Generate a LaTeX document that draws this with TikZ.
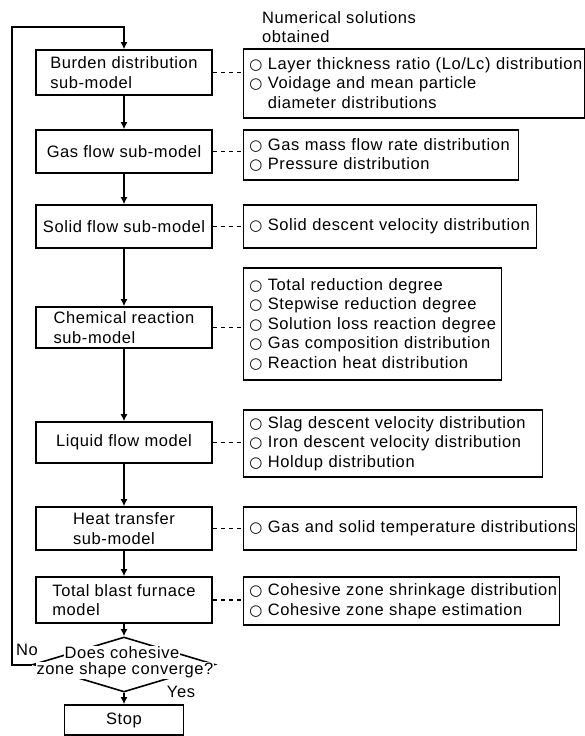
\documentclass[tikz,border=0pt]{standalone}
\usepackage{fontspec}
\setmainfont{Liberation Sans}[LetterSpace=3.5]
\newfontfamily\symfont{DejaVu Sans}
\usetikzlibrary{arrows.meta,shapes.geometric}
\newcommand\cir{{\symfont\fontsize{15}{15}\selectfont ○}}
\newcommand\itm[1]{\mbox{\cir\ #1}}
\newcommand\ind[1]{\mbox{\phantom{\cir\ }#1}}
\begin{document}
\begin{tikzpicture}[x=1pt,y=-1pt,
  every node/.style={font=\fontsize{16.5}{19.5}\selectfont, inner sep=0pt},
  model/.style={draw, line width=1.6pt, minimum width=176pt, align=left},
  result/.style={draw, line width=1.6pt, anchor=west, align=left, inner xsep=6pt, inner ysep=0pt},
  flow/.style={line width=2pt, -{Latex[length=7pt,width=7pt]}},
  link/.style={line width=1.7pt, dash pattern=on 4.5pt off 3.5pt},
]
\useasboundingbox (0,0) rectangle (585,736);

% left column
\node[model, minimum height=45pt] (burden) at (124,72.5) {Burden distribution\\sub-model};
\node[model, minimum height=43pt] (gas) at (124,151.5) {Gas flow sub-model};
\node[model, minimum height=43pt] (solid) at (124,226.5) {Solid flow sub-model};
\node[model, minimum height=41pt] (chem) at (124,327.5) {Chemical reaction\\sub-model};
\node[model, minimum height=41pt] (liquid) at (124,442.5) {Liquid flow model};
\node[model, minimum height=43pt] (heat) at (124,528.5) {Heat transfer\\sub-model};
\node[model, minimum height=46pt] (total) at (124,600) {Total blast furnace\\model};
\node[draw, shape=diamond, line width=1.6pt, minimum width=182pt, minimum height=55pt] (dec) at (124,664.5) {};
\node[fill=white, inner sep=1pt] (q1) at (122,653) {Does cohesive};
\node[fill=white, inner sep=1pt] (q2) at (125,670.5) {zone shape converge?};
\node[draw, line width=1.6pt, minimum width=119pt, minimum height=30pt] (stop) at (124,720) {Stop};
\node (no) at (27,650) {No};
\node (yes) at (181,692) {Yes};

% right column
\node[anchor=west] (head) at (262,27) [align=left] {Numerical solutions\\obtained};
\node[result, text width=329pt, minimum height=69pt] (r1) at (242.5,83.5)
  {\itm{Layer thickness ratio (Lo/Lc) distribution}\\\itm{Voidage and mean particle}\\\ind{diameter distributions}};
\node[result, text width=263pt, minimum height=50pt] (r2) at (242.5,155)
  {\itm{Gas mass flow rate distribution}\\\itm{Pressure distribution}};
\node[result, text width=281pt, minimum height=43pt] (r3) at (242.5,226.5)
  {\itm{Solid descent velocity distribution}};
\node[result, text width=246pt, minimum height=112pt] (r4) at (242.5,324)
  {\itm{Total reduction degree}\\\itm{Stepwise reduction degree}\\\itm{Solution loss reaction degree}\\\itm{Gas composition distribution}\\\itm{Reaction heat distribution}};
\node[result, text width=287pt, minimum height=67pt] (r5) at (242.5,443.5)
  {\itm{Slag descent velocity distribution}\\\itm{Iron descent velocity distribution}\\\itm{Holdup distribution}};
\node[result, text width=321pt, minimum height=43pt] (r6) at (242.5,528.5)
  {\itm{Gas and solid temperature distributions}};
\node[result, text width=304pt, minimum height=48pt] (r7) at (242.5,601)
  {\itm{Cohesive zone shrinkage distribution}\\\itm{Cohesive zone shape estimation}};

% flow arrows
\draw[flow] (burden) -- (gas);
\draw[flow] (gas) -- (solid);
\draw[flow] (solid) -- (chem);
\draw[flow] (chem) -- (liquid);
\draw[flow] (liquid) -- (heat);
\draw[flow] (heat) -- (total);
\draw[flow] (total) -- (dec.north);
\draw[flow] (dec.south) -- (stop);
\coordinate (lt) at (12,27);
\draw[flow] (dec.west) -| (lt) -| (burden.north);

% dashed links
\foreach \a/\b in {burden/r1, gas/r2, solid/r3, chem/r4, liquid/r5, heat/r6, total/r7}
  \draw[link] (\a.east) -- (\a.east -| \b.west);
\end{tikzpicture}
\end{document}
